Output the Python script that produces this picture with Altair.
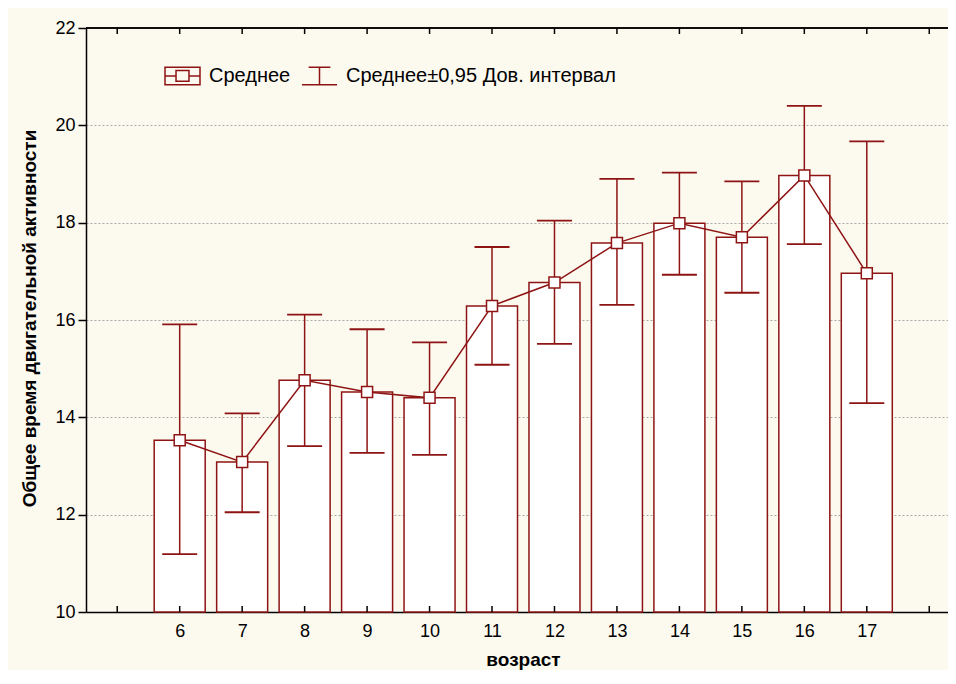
import altair as alt
import pandas as pd

ages = [6, 7, 8, 9, 10, 11, 12, 13, 14, 15, 16, 17]
means = [13.53, 13.08, 14.76, 14.52, 14.40, 16.29, 16.77, 17.58, 17.99, 17.70, 18.97, 16.96]
ci_hi = [15.91, 14.08, 16.11, 15.81, 15.54, 17.50, 18.04, 18.90, 19.03, 18.85, 20.40, 19.67]
ci_lo = [11.19, 12.05, 13.41, 13.27, 13.23, 15.08, 15.51, 16.31, 16.93, 16.56, 17.56, 14.29]
tick_positions = [5, 6, 7, 8, 9, 10, 11, 12, 13, 14, 15, 16, 17, 18]
y_ticks = [10, 12, 14, 16, 18, 20, 22]
legend_labels = ["Среднее", "Среднее±0,95 Дов. интервал"]

RED = "#8E1414"
FONT = "Liberation Sans"
W, H = 862, 584

df = pd.DataFrame({"age": ages, "mean": means, "hi": ci_hi, "lo": ci_lo})
ticks_df = pd.DataFrame({"t": tick_positions})
leg_df = pd.DataFrame({"series": legend_labels})

x_scale = alt.Scale(domain=[4.5, 18.3], nice=False, zero=False, padding=0)
y_scale = alt.Scale(domain=[10, 22], nice=False, zero=False, padding=0)

x_axis = alt.Axis(values=ages, format="d", ticks=False, tickSize=0, grid=False,
                  title="возраст", titleX=437, titleY=53)
y_axis = alt.Axis(values=y_ticks, format="d", grid=True, tickSize=8,
                  title="Общее время двигательной активности",
                  titleAngle=-90, titleX=-51, titleY=290)

base = alt.Chart(df)

bars = base.mark_bar(size=51, fill="white", stroke=RED, strokeWidth=1.5).encode(
    x=alt.X("age:Q", scale=x_scale, axis=x_axis),
    y=alt.Y("mean:Q", scale=y_scale, axis=y_axis),
    y2=alt.datum(10),
)

err = base.mark_rule(color=RED, strokeWidth=1.5).encode(
    x="age:Q", y="lo:Q", y2="hi:Q"
)
cap_hi = base.mark_tick(orient="horizontal", size=35, thickness=1.8, color=RED, opacity=1).encode(
    x="age:Q", y="hi:Q"
)
cap_lo = base.mark_tick(orient="horizontal", size=35, thickness=1.8, color=RED, opacity=1).encode(
    x="age:Q", y="lo:Q"
)
line = base.mark_line(color=RED, strokeWidth=1.5).encode(x="age:Q", y="mean:Q")
pts = base.mark_square(size=121, fill="white", stroke=RED, strokeWidth=1.5, opacity=1).encode(
    x="age:Q", y="mean:Q"
)

bt = alt.Chart(ticks_df).mark_tick(orient="vertical", size=6, thickness=1.5, color="black",
                                   yOffset=-3, opacity=1).encode(
    x=alt.X("t:Q"), y=alt.datum(10)
)
tt = alt.Chart(ticks_df).mark_tick(orient="vertical", size=6, thickness=1.5, color="black",
                                   yOffset=3, opacity=1).encode(
    x=alt.X("t:Q"), y=alt.datum(22)
)
top_border = alt.Chart(leg_df).mark_rule(color="black", strokeWidth=1.5).encode(y=alt.datum(22))

P1 = ("M-1,-0.5L1,-0.5L1,0.5L-1,0.5Z M-1,0L-0.37,0 M0.37,0L1,0 "
      "M-0.37,-0.31L0.37,-0.31L0.37,0.31L-0.37,0.31Z")
P2 = "M-0.62,-0.5L0.62,-0.5 M0,-0.5L0,0.5 M-1,0.5L1,0.5"

legend_layer = alt.Chart(leg_df).mark_point(filled=False, color=RED, strokeWidth=1.5, opacity=0).encode(
    shape=alt.Shape("series:N", scale=alt.Scale(domain=legend_labels, range=[P1, P2]),
                    legend=alt.Legend(title=None, orient="none", legendX=78, legendY=29,
                                      direction="horizontal", symbolSize=1225,
                                      symbolOpacity=1, symbolStrokeWidth=1.5,
                                      symbolStrokeColor=RED, symbolFillColor="white",
                                      labelFont=FONT, labelFontSize=20, labelColor="black",
                                      labelLimit=0, labelOffset=8, columnPadding=8, padding=0))
)

chart = alt.layer(top_border, bars, err, cap_hi, cap_lo, line, pts, bt, tt, legend_layer).properties(
    width=W, height=H,
    background="#FCF9EF",
    autosize=alt.AutoSizeParams(type="none"),
    padding={"left": 78, "top": 20, "right": 0, "bottom": 58},
).configure_view(
    fill="white", stroke=None
).configure_axis(
    labelFont=FONT, labelFontSize=18, labelColor="black",
    titleFont=FONT, titleFontSize=19, titleFontWeight="bold", titleColor="black",
    titleBaseline="alphabetic",
    domainColor="black", domainWidth=1.5,
    tickColor="black", tickWidth=1.5,
    gridColor="#AAAAAA", gridDash=[2, 2], gridWidth=1,
).configure_axisX(
    labelPadding=10, grid=False, ticks=False,
).configure_axisY(
    labelPadding=3,
)

chart.save("out.html", embed_options={"renderer": "svg", "actions": False})
